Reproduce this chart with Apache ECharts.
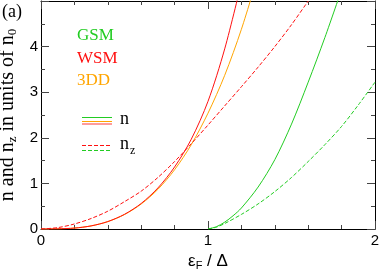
<!DOCTYPE html>
<html><head><meta charset="utf-8">
<script src="https://cdn.jsdelivr.net/npm/echarts@6/dist/echarts.min.js"></script>
<style>html,body{margin:0;padding:0;background:#fff}#c{width:381px;height:271px}</style>
</head><body><div id="c"></div>
<script>
// ---- data ----
const xTickLabels = ['0', '1', '2'];
const yTickLabels = ['0', '1', '2', '3', '4'];
const legendNames = ['GSM', 'WSM', '3DD'];

const x3DD = [0, 0.1, 0.2, 0.3, 0.4, 0.5, 0.6, 0.7, 0.8, 0.9, 1.0, 1.1, 1.2, 1.3];
const n3DD = [0, 0.003, 0.02, 0.068, 0.162, 0.317, 0.548, 0.87, 1.3, 1.85, 2.54, 3.37, 4.38, 5.57];

const xWSM = [0, 0.1, 0.2, 0.3, 0.4, 0.5, 0.6, 0.7, 0.8, 0.9, 1.0, 1.1, 1.2];
const nWSM = [0, 0.003, 0.02, 0.068, 0.163, 0.322, 0.56, 0.9, 1.36, 1.97, 2.8, 3.95, 5.4];

const xWSMz = [0, 0.1, 0.2, 0.3, 0.4, 0.5, 0.6, 0.7, 0.8, 0.9, 1.0, 1.1, 1.2, 1.3, 1.4, 1.5, 1.6];
const nzWSM = [0, 0.03, 0.11, 0.23, 0.39, 0.6, 0.83, 1.13, 1.48, 1.87, 2.28, 2.7, 3.12, 3.55, 4.0, 4.48, 5.0];

const xGSM = [1.0, 1.05, 1.1, 1.15, 1.2, 1.3, 1.4, 1.5, 1.6, 1.7, 1.8];
const nGSM = [0, 0.05, 0.15, 0.29, 0.46, 0.92, 1.52, 2.3, 3.22, 4.2, 5.25];

const xGSMz = [1.0, 1.05, 1.1, 1.2, 1.3, 1.4, 1.5, 1.6, 1.7, 1.8, 1.9, 2.0];
const nzGSM = [0, 0.04, 0.12, 0.32, 0.55, 0.82, 1.13, 1.48, 1.85, 2.25, 2.72, 3.22];

// ---- styling ----
const GREEN = '#22cc22', RED = '#ff1010', ORANGE = '#ffa500';
const SERIF = 'Liberation Serif', SANS = 'Liberation Sans';
const zip = (xs, ys) => xs.map((x, i) => [x, ys[i]]);

const chart = echarts.init(document.getElementById('c'), null, {renderer: 'canvas'});

function xAx(pos, labels) {
  return {
    type: 'value', min: 0, max: 2, interval: 1, position: pos,
    axisLine: {show: true, onZero: false, lineStyle: {color: '#000', width: 1}},
    axisTick: {show: true, inside: true, length: 8, lineStyle: {color: '#444'}},
    minorTick: {show: true, splitNumber: 5, length: 4, lineStyle: {color: '#444'}},
    splitLine: {show: false},
    axisLabel: labels ? {show: true, fontSize: 15, fontFamily: SANS, color: '#000', margin: 4,
      formatter: v => xTickLabels[Math.round(v)] ?? ''} : {show: false}
  };
}
function yAx(pos, labels) {
  return {
    type: 'value', min: 0, max: 5, interval: 1, position: pos,
    axisLine: {show: true, onZero: false, lineStyle: {color: '#000', width: 1}},
    axisTick: {show: true, inside: true, length: 8, lineStyle: {color: '#444'}},
    minorTick: {show: true, splitNumber: 2, length: 4, lineStyle: {color: '#444'}},
    splitLine: {show: false},
    axisLabel: labels ? {show: true, fontSize: 15, fontFamily: SANS, color: '#000', margin: 3,
      formatter: v => yTickLabels[Math.round(v)] ?? ''} : {show: false}
  };
}

const xMain = xAx('bottom', true);
xMain.name = '{t|ε}{s|F}{t| / Δ}';
xMain.nameLocation = 'middle';
xMain.nameGap = 15;
xMain.nameTextStyle = {rich: {
  t: {fontSize: 17, fontFamily: SANS, color: '#000'},
  s: {fontSize: 11, fontFamily: SANS, color: '#000', padding: [9, 0, 0, 0]}
}};
const yMain = yAx('left', true);
yMain.name = '{t|n and n}{s|z}{t| in units of n}{s|0}';
yMain.nameLocation = 'middle';
yMain.nameRotate = 90;
yMain.nameGap = 22;
yMain.nameTextStyle = {rich: {
  t: {fontSize: 20, fontFamily: SERIF, color: '#000'},
  s: {fontSize: 13, fontFamily: SERIF, color: '#000', padding: [10, 0, 0, 0]}
}};

function line(name, data, color, dashed) {
  return {
    name, type: 'line', data, xAxisIndex: 0, yAxisIndex: 0,
    showSymbol: false, smooth: 0.3, clip: true, silent: true,
    lineStyle: {color, width: 1, type: dashed ? [4, 2] : 'solid'}
  };
}

const legendLine = (x1, x2, y, color, dashed, w) => ({
  type: 'line', silent: true, z: 100,
  shape: {x1, y1: y, x2, y2: y},
  style: {stroke: color, fill: null, lineWidth: w || 1, lineDash: dashed ? [4, 2] : null, opacity: 1}
});
const label = (x, y, text, color, size, font) => ({
  type: 'text', x, y, silent: true, z: 100,
  style: {text, fill: color, font: `${size}px "${font}"`, verticalAlign: 'middle', align: 'left'}
});

chart.setOption({
  animation: false,
  backgroundColor: '#fff',
  grid: {left: 41, top: 1, width: 334, height: 228, containLabel: false, outerBoundsMode: 'none'},
  xAxis: [xMain, xAx('top', false)],
  yAxis: [yMain, yAx('right', false)],
  series: [
    line('3DD n', zip(x3DD, n3DD), ORANGE, false),
    line('WSM n', zip(xWSM, nWSM), RED, false),
    line('WSM nz', zip(xWSMz, nzWSM), RED, true),
    line('GSM n', zip(xGSM, nGSM), GREEN, false),
    line('GSM nz', zip(xGSMz, nzGSM), GREEN, true)
  ],
  graphic: [
    label(2, 12, '(a)', '#000', 18, SERIF),
    label(77, 36, legendNames[0], GREEN, 17, SERIF),
    label(77, 59, legendNames[1], RED, 17, SERIF),
    label(77, 81, legendNames[2], ORANGE, 17, SERIF),
    legendLine(82, 112, 117.5, GREEN, false, 1),
    legendLine(82, 112, 121.5, ORANGE, false, 1),
    legendLine(82, 112, 124, 'rgba(255,90,90,0.6)', false, 2),
    legendLine(82, 112, 145.5, RED, true, 1),
    legendLine(82, 112, 150.5, GREEN, true, 1),
    label(120, 119, 'n', '#000', 18, SERIF),
    label(120, 144, 'n', '#000', 18, SERIF),
    label(130, 151, 'z', '#000', 12, SERIF)
  ]
});
</script>
</body></html>
